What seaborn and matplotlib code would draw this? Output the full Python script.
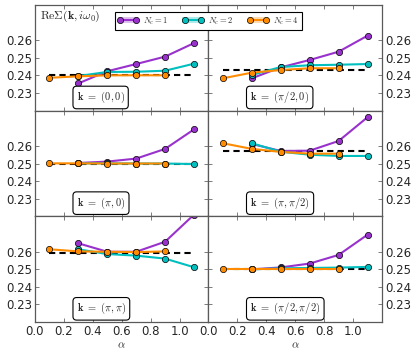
import numpy as np
import pandas as pd
import matplotlib
matplotlib.use("Agg")
import matplotlib.pyplot as plt
from matplotlib.patches import Patch
import seaborn as sns

# data
alpha_1 = [0.3, 0.5, 0.7, 0.9, 1.1]   # Nc=1 and Nc=2
alpha_4 = [0.1, 0.3, 0.5, 0.7, 0.9]   # Nc=4
dash_x = [0.1, 1.1]

k_labels = [r"$(0,0)$", r"$(\pi/2,0)$", r"$(\pi,0)$",
            r"$(\pi,\pi/2)$", r"$(\pi,\pi)$", r"$(\pi/2,\pi/2)$"]

nc1 = [
    [0.2355, 0.2424, 0.2465, 0.2507, 0.2584],
    [0.2384, 0.2446, 0.2488, 0.2535, 0.2626],
    [0.2503, 0.2511, 0.2528, 0.2583, 0.2694],
    [0.2611, 0.2571, 0.2573, 0.2628, 0.2763],
    [0.2647, 0.2599, 0.2599, 0.2656, 0.2810],
    [0.2499, 0.2510, 0.2532, 0.2581, 0.2696],
]
nc2 = [
    [0.2397, 0.2420, 0.2421, 0.2427, 0.2467],
    [0.2403, 0.2448, 0.2458, 0.2461, 0.2465],
    [0.2501, 0.2501, 0.2500, 0.2500, 0.2497],
    [0.2615, 0.2567, 0.2550, 0.2543, 0.2543],
    [0.2613, 0.2586, 0.2577, 0.2560, 0.2511],
    [0.2499, 0.2505, 0.2507, 0.2509, 0.2513],
]
nc4 = [
    [0.2387, 0.2395, 0.2401, 0.2401, 0.2401],
    [0.2384, 0.2416, 0.2431, 0.2441, 0.2441],
    [0.2501, 0.2501, 0.2500, 0.2500, 0.2500],
    [0.2615, 0.2583, 0.2566, 0.2556, 0.2556],
    [0.2613, 0.2601, 0.2599, 0.2597, 0.2601],
    [0.2499, 0.2499, 0.2499, 0.2499, 0.2499],
]
dash_val = [0.2404, 0.2431, 0.2500, 0.2570, 0.2593, 0.2499]

series_names = [r"$N_c=1$", r"$N_c=2$", r"$N_c=4$"]
colors = ["#9932CC", "#00BFBF", "#FF8C00"]

sns.set_style("ticks")
plt.rcParams["font.family"] = ["DejaVu Sans"]
plt.rcParams["mathtext.fontset"] = "cm"

fig, axes = plt.subplots(3, 2, sharex=True, sharey=True, figsize=(4.15, 3.59), dpi=100)
fig.subplots_adjust(left=0.0843, right=0.9205, top=0.986, bottom=0.103, hspace=0, wspace=0)

for i, ax in enumerate(axes.flat):
    df = pd.concat([
        pd.DataFrame({"alpha": alpha_1, "val": nc1[i], "Nc": series_names[0]}),
        pd.DataFrame({"alpha": alpha_1, "val": nc2[i], "Nc": series_names[1]}),
        pd.DataFrame({"alpha": alpha_4, "val": nc4[i], "Nc": series_names[2]}),
    ])
    ax.plot(dash_x, [dash_val[i]] * 2, color="k", lw=1.5, ls=(0, (3, 2)), zorder=1)
    sns.lineplot(data=df, x="alpha", y="val", hue="Nc", palette=colors,
                 marker="o", markersize=4.5, markeredgecolor="k", markeredgewidth=0.5,
                 lw=1.5, ax=ax, legend=False, zorder=2)
    ax.text(0.24, 0.125, r"$\mathbf{k}$ $\mathbf{=}$ " + k_labels[i], transform=ax.transAxes,
            ha="left", va="center", fontsize=7.5,
            bbox=dict(boxstyle="round,pad=0.35", fc="white", ec="k", lw=0.8))
    ax.set_xlim(0, 1.2)
    ax.set_ylim(0.22, 0.28)
    ax.set_xticks([0.0, 0.2, 0.4, 0.6, 0.8, 1.0])
    ax.set_yticks([0.23, 0.24, 0.25, 0.26])
    ax.set_xlabel("")
    ax.set_ylabel("")
    ax.tick_params(direction="in", length=3, width=0.6, color="0.4",
                   top=True, right=True, labelsize=8.5, pad=2)
    for s in ax.spines.values():
        s.set_color("0.35")
        s.set_linewidth(0.9)
    if i % 2 == 1:
        ax.tick_params(labelleft=False, labelright=True)

axes[0, 0].text(0.03, 0.89, r"$\mathrm{Re}\Sigma(\mathbf{k},i\omega_0)$",
                transform=axes[0, 0].transAxes, ha="left", va="center", fontsize=8.5)
for ax in axes[2]:
    ax.set_xlabel(r"$\alpha$", fontsize=8, labelpad=2)

handles = []
for c in colors:
    line = plt.Line2D([], [], color=c, lw=1.5, marker="o", markersize=4.5,
                      markeredgecolor="k", markeredgewidth=0.5)
    handles.append((Patch(facecolor=c, alpha=0.3, lw=0), line))
leg = fig.legend(handles, series_names, loc="upper center", bbox_to_anchor=(0.502, 0.978),
                 ncol=3, fontsize=6.2, frameon=True, fancybox=False, edgecolor="k",
                 framealpha=1, numpoints=2, handlelength=2.4, columnspacing=1.6,
                 borderpad=0.35, handletextpad=0.6)
leg.get_frame().set_linewidth(0.8)

fig.savefig("out.png", dpi=100)
